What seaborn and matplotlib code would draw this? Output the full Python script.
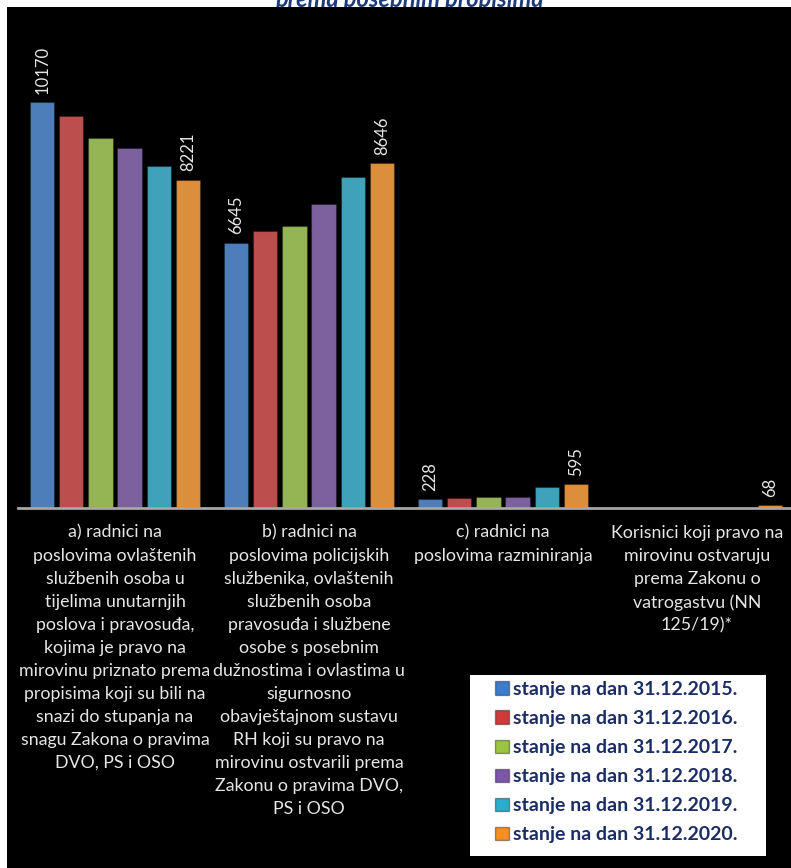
import numpy as np
import pandas as pd
import seaborn as sns
import matplotlib.pyplot as plt
from matplotlib.patches import Patch, Rectangle

# categories (x axis)
categories = [
    "a) radnici na\nposlovima ovlaštenih\nslužbenih osoba u\ntijelima unutarnjih\nposlova i pravosuđa,\nkojima je pravo na\nmirovinu priznato prema\npropisima koji su bili na\nsnazi do stupanja na\nsnagu Zakona o pravima\nDVO, PS i OSO",
    "b) radnici na\nposlovima policijskih\nslužbenika, ovlaštenih\nslužbenih osoba\npravosuđa i službene\nosobe s posebnim\ndužnostima i ovlastima u\nsigurnosno\nobavještajnom sustavu\nRH koji su pravo na\nmirovinu ostvarili prema\nZakonu o pravima DVO,\nPS i OSO",
    "c) radnici na\nposlovima razminiranja",
    "Korisnici koji pravo na\nmirovinu ostvaruju\nprema Zakonu o\nvatrogastvu (NN\n125/19)*",
]
series = ["stanje na dan 31.12.2015.", "stanje na dan 31.12.2016.",
          "stanje na dan 31.12.2017.", "stanje na dan 31.12.2018.",
          "stanje na dan 31.12.2019.", "stanje na dan 31.12.2020."]

v2015 = [10170, 6645, 228, np.nan]
v2016 = [9824, 6942, 245, np.nan]
v2017 = [9272, 7067, 285, np.nan]
v2018 = [9022, 7618, 280, np.nan]
v2019 = [8571, 8295, 526, np.nan]
v2020 = [8221, 8646, 595, 68]
labelled = [10170, 8221, 6645, 8646, 228, 595, 68]

colors = ["#3b7ccc", "#cf3b3b", "#9bc443", "#7c57a9", "#2badd0", "#f58f22"]

rows = []
for s, vals in zip(series, [v2015, v2016, v2017, v2018, v2019, v2020]):
    for c, v in zip(categories, vals):
        rows.append({"kategorija": c, "stanje": s, "broj": v})
df = pd.DataFrame(rows).dropna()

plt.rcParams['font.family'] = ['Lato', 'DejaVu Sans']

W, H = 791, 868
fig = plt.figure(figsize=(W / 100, H / 100), dpi=100, facecolor='white')

# cut-off title above the black area
fig.text(409 / W, 1 - 7 / H, "prema posebnim propisima", ha='center', va='baseline',
         fontsize=17, fontweight='bold', fontstyle='italic', color='#1d3a7a', zorder=0)
fig.patches.append(Rectangle((7 / W, 0), 1, 1 - 7 / H, transform=fig.transFigure,
                             facecolor='black', edgecolor='none', zorder=0.5))

ax = fig.add_axes([18 / W, 360 / H, 776 / W, 498 / H], zorder=1)
ax.set_facecolor('none')

sns.barplot(data=df, x="kategorija", y="broj", hue="stanje", order=categories,
            hue_order=series, palette=colors, width=0.9, gap=0.17,
            edgecolor='#00000040', linewidth=0.8, legend=False, ax=ax)

ax.set_ylim(0, 12475)
ax.set_xlim(-0.5, 3.5)
ax.set_yticks([])
ax.set_xlabel("")
ax.set_ylabel("")
for side in ['top', 'right', 'left']:
    ax.spines[side].set_visible(False)
ax.spines['bottom'].set_color('#a6a6a6')
ax.spines['bottom'].set_linewidth(2)
ax.tick_params(axis='x', length=0, pad=12, colors='#e6e6e6', labelsize=12.8)
for lbl in ax.get_xticklabels():
    lbl.set_linespacing(1.54)

for cont in ax.containers:
    labels = [str(int(v)) if v in labelled else '' for v in cont.datavalues]
    ax.bar_label(cont, labels=labels, rotation=90, padding=6, color='#e6e6e6', fontsize=12)

# legend box
fig.patches.append(Rectangle((470 / W, 1 - 856 / H), 296 / W, 181 / H, transform=fig.transFigure,
                             facecolor='white', edgecolor='none', zorder=2))
handles = [Patch(facecolor=c, edgecolor='#00000060') for c in colors]
leg = fig.legend(handles, series, loc='upper left', bbox_to_anchor=(495 / W, 1 - 681 / H),
                 frameon=False, handlelength=0.7, handleheight=0.7, handletextpad=0.25,
                 labelspacing=0.62, borderpad=0, borderaxespad=0,
                 prop={'weight': 'bold', 'size': 14})
leg.set_zorder(3)
for t in leg.get_texts():
    t.set_color('#1c2d66')

fig.savefig("out.png", dpi=100, facecolor=fig.get_facecolor())
